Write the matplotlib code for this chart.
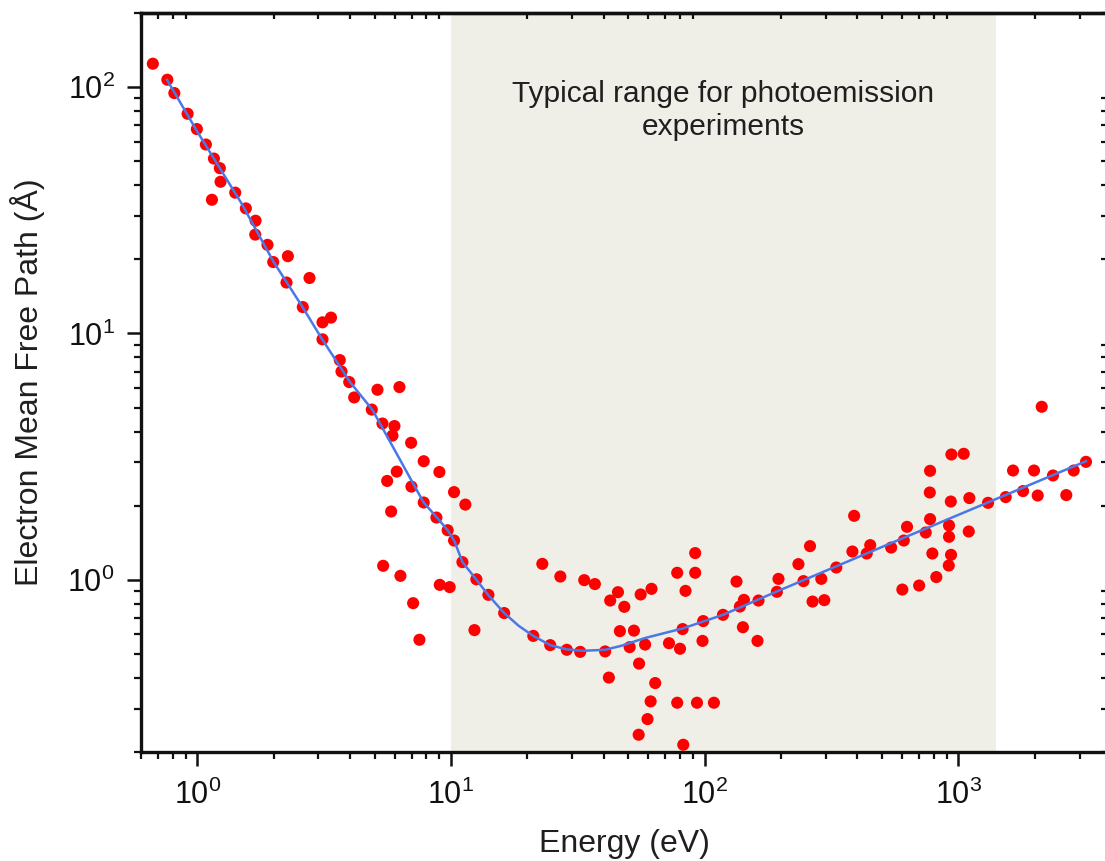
import numpy as np
import matplotlib
matplotlib.use('Agg')
import matplotlib.pyplot as plt
from matplotlib.ticker import LogLocator, NullFormatter, FuncFormatter

# measured points (energy in eV, mean free path in Angstrom)
energy = [0.668, 0.762, 0.812, 0.916, 0.996, 1.081, 1.163, 1.227, 1.235, 1.142,
          1.411, 1.554, 1.697, 1.692, 1.891, 1.992, 2.275, 2.247, 2.769, 2.605,
          3.115, 3.365, 3.115,
          3.644, 3.701, 3.970, 4.153, 5.130, 6.262, 4.872, 5.368, 5.985, 5.877,
          6.963, 7.806, 9.00, 6.111, 5.603, 6.982, 7.806, 8.76, 10.28, 11.39,
          5.808, 9.70, 10.28, 11.09, 12.59, 14.04, 5.403, 6.319, 9.03, 9.88,
          7.091, 7.508, 12.37, 16.20,
          22.9, 26.97, 33.5, 36.9, 21.1, 24.6, 28.6, 32.3, 40.5, 41.9,
          42.4, 45.5, 48.2, 46.3, 50.6, 52.6, 55.1, 55.9, 61.7, 58.2,
          63.8, 61.2, 59.5, 54.9, 77.9, 91.7, 91.7, 84.0, 81.8, 72.3,
          79.9, 77.9, 93.2, 108.7, 82.3, 98.6, 98.0, 118, 133.4, 142.7,
          137.6, 141.4, 162.9, 161.4, 195.3, 192.5,
          234, 245, 260, 266, 296, 288, 330, 388, 382, 435,
          449, 543, 609, 627, 601, 700, 743, 773, 789, 818,
          771, 773, 938, 1049, 933, 918, 918, 935, 916, 1104,
          1098, 1308, 1536, 1797, 1641, 1985, 2053, 2129, 2358, 2661,
          2846, 3182]
imfp = [124.5, 107.2, 94.6, 78.0, 67.6, 58.5, 51.3, 46.9, 41.3, 34.9,
        37.3, 32.2, 28.7, 25.2, 22.9, 19.5, 20.6, 16.1, 16.8, 12.8,
        11.1, 11.6, 9.47,
        7.80, 7.01, 6.35, 5.50, 5.91, 6.06, 4.91, 4.31, 4.21, 3.85,
        3.60, 3.03, 2.74, 2.75, 2.52, 2.39, 2.06, 1.79, 2.27, 2.02,
        1.894, 1.59, 1.444, 1.18, 1.005, 0.869, 1.14, 1.038, 0.954, 0.934,
        0.804, 0.571, 0.625, 0.733,
        1.161, 1.031, 0.997, 0.961, 0.592, 0.543, 0.520, 0.510, 0.512, 0.401,
        0.824, 0.891, 0.777, 0.619, 0.533, 0.622, 0.457, 0.872, 0.919, 0.546,
        0.381, 0.321, 0.272, 0.235, 1.068, 1.284, 1.068, 0.902, 0.631, 0.553,
        0.525, 0.317, 0.317, 0.317, 0.214, 0.680, 0.565, 0.721, 0.984, 0.829,
        0.779, 0.642, 0.824, 0.565, 1.009, 0.894,
        1.158, 0.988, 1.370, 0.816, 0.827, 1.009, 1.122, 1.819, 1.303, 1.279,
        1.383, 1.352, 1.444, 1.641, 0.913, 0.948, 1.556, 1.764, 1.279, 1.026,
        2.262, 2.770, 3.227, 3.248, 2.079, 1.662, 1.495, 1.263, 1.143, 2.147,
        1.571, 2.054, 2.167, 2.292, 2.778, 2.778, 2.199, 5.04, 2.652, 2.208,
        2.778, 3.013]

# universal curve
curve_e = [0.76, 1.0, 1.5, 2.0, 2.6, 3.1, 4.0, 4.9, 6.0, 7.0, 7.8, 8.8, 9.7,
           10.3, 11.1, 12.6, 14.0, 16.2, 18.5, 21.1, 24.6, 28.6, 33.0, 40.5,
           47, 58, 82, 118, 195, 500, 1000, 3180]
curve_l = [107, 66, 33.5, 19.5, 12.8, 9.5, 6.35, 4.9, 3.36, 2.52, 2.06, 1.79,
           1.59, 1.44, 1.18, 1.0, 0.869, 0.733, 0.65, 0.592, 0.543, 0.522,
           0.515, 0.52, 0.54, 0.58, 0.635, 0.721, 0.902, 1.36, 1.836, 3.03]

band = (10, 1400)
band_text = 'Typical range for photoemission\nexperiments'

plt.rcParams['font.family'] = ['Liberation Sans', 'DejaVu Sans']
plt.rcParams['mathtext.fontset'] = 'custom'
plt.rcParams['mathtext.rm'] = 'Liberation Sans'
plt.rcParams['mathtext.it'] = 'Liberation Sans:italic'
plt.rcParams['mathtext.bf'] = 'Liberation Sans:bold'

W, H = 1105, 861
fig = plt.figure(figsize=(W / 100, H / 100), dpi=100)
ax = fig.add_axes([141 / W, 1 - 752 / H, (1107 - 141) / W, (752 - 13) / H])

ax.set_xscale('log')
ax.set_yscale('log')
ax.set_xlim(0.6, 3850)
ax.set_ylim(0.2, 200)

ax.axvspan(band[0], band[1], color='#f0efe7', lw=0, zorder=0)
ax.scatter(energy, imfp, s=76, color='#ff0000', edgecolors='none', zorder=3)
ax.plot(curve_e, curve_l, color='#4a78e8', lw=1.8, zorder=4)

ax.text(np.sqrt(band[0] * band[1]), 0.91, band_text, transform=ax.get_xaxis_transform(),
        ha='center', va='top', fontsize=21.5, linespacing=1.25, color='#1f1f1f')

for sp in ax.spines.values():
    sp.set_linewidth(2.4)
    sp.set_color('#111111')

pow10 = FuncFormatter(lambda v, pos: '$\\mathregular{10^{%d}}$' % round(np.log10(v)))
ax.xaxis.set_major_locator(LogLocator(base=10, numticks=10))
ax.xaxis.set_major_formatter(pow10)
ax.yaxis.set_major_formatter(pow10)
ax.xaxis.set_minor_locator(LogLocator(base=10, subs=np.arange(2, 10), numticks=20))
ax.yaxis.set_minor_locator(LogLocator(base=10, subs=np.arange(2, 10), numticks=20))
ax.xaxis.set_minor_formatter(NullFormatter())
ax.yaxis.set_minor_formatter(NullFormatter())

ax.tick_params(which='major', direction='out', length=10, width=1.8, labelsize=22,
               colors='#111111', top=False, right=False)
ax.tick_params(which='minor', direction='out', length=5, width=1.6,
               colors='#111111', top=False, right=False)
ax.tick_params(axis='x', which='major', pad=10)
ax.tick_params(axis='y', which='major', pad=9)

# inward minor ticks on the top and right edges
top = ax.secondary_xaxis('top')
top.xaxis.set_major_locator(LogLocator(base=10, numticks=10))
top.xaxis.set_minor_locator(LogLocator(base=10, subs=np.arange(2, 10), numticks=20))
top.tick_params(which='major', length=0, labeltop=False)
top.tick_params(which='minor', direction='in', length=4.5, width=1.6, colors='#111111')
top.xaxis.set_minor_formatter(NullFormatter())
top.spines['top'].set_linewidth(2.4)

right = ax.secondary_yaxis('right')
right.yaxis.set_major_locator(LogLocator(base=10, numticks=10))
right.yaxis.set_minor_locator(LogLocator(base=10, subs=np.arange(2, 10), numticks=20))
right.tick_params(which='major', length=0, labelright=False)
right.tick_params(which='minor', direction='in', length=4.5, width=1.6, colors='#111111')
right.yaxis.set_minor_formatter(NullFormatter())

ax.set_xlabel('Energy (eV)', fontsize=23, labelpad=13, color='#1f1f1f')
ax.set_ylabel('Electron Mean Free Path (Å)', fontsize=23, labelpad=16, color='#1f1f1f')

fig.savefig('out.png', dpi=100)
